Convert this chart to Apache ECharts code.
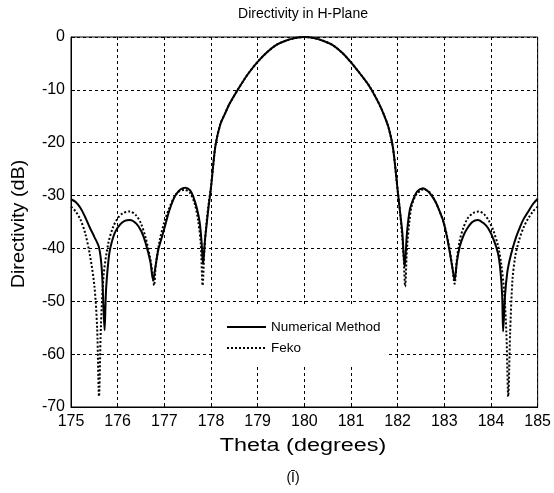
<!DOCTYPE html>
<html>
<head>
<meta charset="utf-8">
<script src="https://cdn.jsdelivr.net/npm/echarts@6/dist/echarts.min.js"></script>
<style>html,body{margin:0;padding:0;background:#fff;}#c{width:554px;height:493px;}</style>
</head>
<body>
<div id="c"></div>
<script>
// Tick labels
const xTicks = [175,176,177,178,179,180,181,182,183,184,185];
const yTicks = [0,-10,-20,-30,-40,-50,-60,-70];

// Numerical Method (solid)
const thetaNM = [175.0,175.1,175.2,175.3,175.4,175.5,175.6,175.66,175.7,175.72,175.75,175.8,175.84,175.94,176.05,176.15,176.26,176.4,176.51,176.6,176.7,176.76,176.8,176.87,176.95,177.01,177.1,177.19,177.25,177.35,177.45,177.55,177.62,177.7,177.76,177.8,177.83,177.87,177.9,177.95,178.0,178.05,178.1,178.2,178.3,178.4,178.6,178.8,179.0,179.2,179.4,179.6,179.8,180.0,180.2,180.4,180.6,180.8,181.0,181.2,181.4,181.6,181.7,181.8,181.9,182.0,182.05,182.1,182.15,182.2,182.26,182.33,182.42,182.54,182.65,182.75,182.83,182.9,182.97,183.05,183.12,183.18,183.22,183.27,183.33,183.4,183.47,183.6,183.72,183.85,183.94,184.05,184.15,184.2,184.24,184.26,184.3,184.35,184.4,184.47,184.54,184.62,184.69,184.8,184.9,185.0];
const dbNM = [-30.7,-31.2,-32.3,-34.0,-36.0,-37.8,-39.8,-44.0,-52.0,-55.5,-48.0,-42.5,-40.0,-37.0,-35.5,-34.8,-34.6,-35.3,-36.8,-39.0,-42.5,-46.0,-44.0,-40.3,-37.8,-35.9,-33.0,-30.8,-29.8,-28.8,-28.5,-29.0,-30.2,-32.5,-35.2,-39.0,-43.0,-38.5,-36.0,-32.0,-28.5,-24.0,-20.3,-16.5,-14.5,-12.6,-9.6,-6.9,-4.7,-2.9,-1.5,-0.7,-0.2,0,-0.2,-0.7,-1.5,-2.9,-4.8,-7.0,-9.4,-12.6,-14.6,-17.0,-21.0,-29.0,-33.0,-37.0,-43.5,-37.0,-32.7,-30.8,-29.2,-28.6,-29.2,-30.3,-31.5,-33.0,-34.6,-37.5,-40.9,-44.0,-46.0,-42.5,-39.7,-37.8,-36.5,-35.0,-34.6,-35.3,-36.2,-38.2,-40.9,-44.0,-49.0,-55.7,-49.0,-44.5,-42.2,-39.8,-37.8,-36.0,-34.6,-33.0,-31.6,-30.6];

// Feko (dotted)
const thetaFeko = [175.0,175.1,175.2,175.3,175.4,175.5,175.56,175.6,175.64,175.7,175.8,175.9,176.0,176.1,176.26,176.4,176.5,176.6,176.7,176.75,176.78,176.82,176.9,177.0,177.1,177.2,177.3,177.43,177.55,177.65,177.72,177.78,177.82,177.86,177.9,177.95,178.0,178.05,178.1,178.2,178.3,178.4,178.6,178.8,179.0,179.2,179.4,179.6,179.8,180.0,180.2,180.4,180.6,180.8,181.0,181.2,181.4,181.6,181.7,181.8,181.9,182.0,182.05,182.1,182.13,182.16,182.2,182.25,182.3,182.4,182.56,182.7,182.8,182.9,183.0,183.1,183.17,183.22,183.27,183.33,183.4,183.5,183.62,183.74,183.85,183.95,184.05,184.15,184.22,184.28,184.33,184.37,184.41,184.46,184.52,184.6,184.7,184.8,184.9,185.0];
const dbFeko = [-32.1,-33.0,-34.5,-37.0,-41.0,-47.0,-55.0,-68.0,-55.0,-45.0,-39.0,-36.0,-34.3,-33.4,-33.0,-33.8,-35.3,-38.0,-42.0,-45.0,-47.0,-43.0,-38.5,-35.0,-32.5,-30.5,-29.3,-28.9,-29.5,-31.5,-34.5,-39.0,-47.0,-40.0,-35.5,-31.5,-28.3,-24.0,-20.3,-16.5,-14.5,-12.6,-9.6,-6.9,-4.7,-2.9,-1.5,-0.7,-0.2,0,-0.2,-0.7,-1.5,-2.9,-4.8,-7.0,-9.4,-12.6,-14.6,-17.0,-21.0,-29.0,-33.0,-38.0,-42.0,-47.2,-40.0,-35.0,-32.0,-29.8,-28.8,-29.5,-31.0,-33.0,-35.5,-39.5,-43.5,-46.7,-42.0,-38.5,-36.3,-34.3,-33.3,-33.0,-33.5,-34.7,-36.6,-39.5,-43.0,-48.0,-56.0,-68.0,-56.0,-46.0,-41.5,-38.5,-36.0,-34.3,-33.0,-32.1];

const seriesNames = ['Numerical Method', 'Feko'];

const pairs = (xs, ys) => xs.map((x, i) => [x, ys[i]]);
const FONT = '"Liberation Sans", Arial, sans-serif';

const chart = echarts.init(document.getElementById('c'), null, {renderer: 'canvas'});
chart.setOption({
  animation: false,
  backgroundColor: '#fff',
  grid: {left: 71, right: 16, top: 37, bottom: 86, show: true, borderColor: '#000', borderWidth: 1, backgroundColor: 'transparent'},
  xAxis: {
    type: 'value', min: xTicks[0], max: xTicks[xTicks.length - 1], interval: 1,
    axisLine: {show: true, onZero: false, lineStyle: {color: '#000', width: 1}},
    axisTick: {show: true, inside: true, length: 4, lineStyle: {color: '#000'}},
    axisLabel: {color: '#000', fontSize: 16, fontFamily: FONT, margin: 7, showMinLabel: true, showMaxLabel: true},
    splitLine: {show: true, lineStyle: {color: '#000', width: 1, type: [3, 3]}}
  },
  yAxis: {
    type: 'value', min: yTicks[yTicks.length - 1], max: yTicks[0], interval: 10,
    axisLine: {show: true, onZero: false, lineStyle: {color: '#000', width: 1}},
    axisTick: {show: true, inside: true, length: 4, lineStyle: {color: '#000'}},
    axisLabel: {color: '#000', fontSize: 16, fontFamily: FONT, margin: 6, showMinLabel: true, showMaxLabel: true},
    splitLine: {show: true, lineStyle: {color: '#000', width: 1, type: [3, 3]}}
  },
  legend: {
    data: seriesNames,
    orient: 'vertical', left: 212, top: 305,
    itemWidth: 39, itemHeight: 14, itemGap: 7,
    itemStyle: {opacity: 0},
    backgroundColor: '#fff', padding: [15, 8, 9, 14],
    textStyle: {color: '#000', fontSize: 13.5, fontFamily: FONT}
  },
  series: [
    {name: seriesNames[0], type: 'line', data: pairs(thetaNM, dbNM), symbol: 'none', smooth: 0.3,
     lineStyle: {color: '#000', width: 2, type: 'solid'}, itemStyle: {color: '#000'}, z: 3},
    {name: seriesNames[1], type: 'line', data: pairs(thetaFeko, dbFeko), symbol: 'none', smooth: 0.3,
     lineStyle: {color: '#000', width: 2, type: [2, 2]}, itemStyle: {color: '#000'}, z: 2}
  ],
  graphic: [
    {type: 'text', x: 303, y: 14, style: {text: 'Directivity in H-Plane', font: '14px ' + FONT, fill: '#000', align: 'center', verticalAlign: 'middle'}},
    {type: 'text', x: 303, y: 446, scaleX: 1.3, style: {text: 'Theta (degrees)', font: '18px ' + FONT, fill: '#000', align: 'center', verticalAlign: 'middle'}},
    {type: 'text', x: 19, y: 224, rotation: Math.PI / 2, scaleX: 1.1, style: {text: 'Directivity (dB)', font: '18px ' + FONT, fill: '#000', align: 'center', verticalAlign: 'middle'}},
    {type: 'text', x: 293, y: 478, style: {text: '(Ī)', font: '14px ' + FONT, fill: '#000', align: 'center', verticalAlign: 'middle'}}
  ]
});
</script>
</body>
</html>
